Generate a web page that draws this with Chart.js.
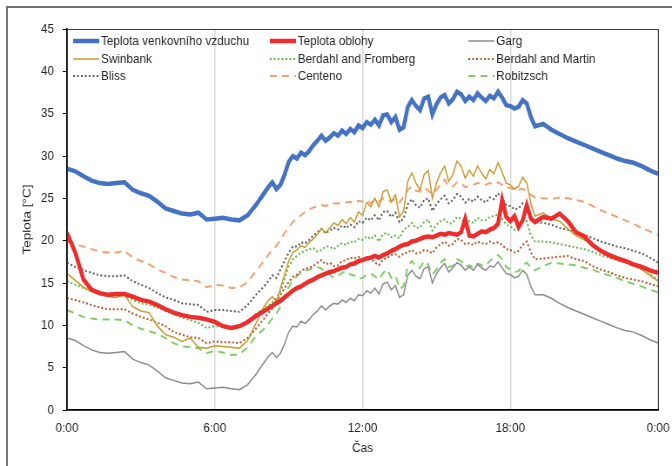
<!DOCTYPE html>
<html>
<head>
<meta charset="utf-8">
<script src="https://cdn.jsdelivr.net/npm/chart.js@4.4.1/dist/chart.umd.min.js"></script>
<style>
  html, body { margin: 0; padding: 0; background: #fff; }
  #wrap { width: 672px; height: 466px; overflow: hidden; }
  /* the whole figure is drawn wider and squeezed, which gives the narrow lettering */
  #chart { transform: scaleX(0.8705); transform-origin: 0 0; }
</style>
</head>
<body>
<div id="wrap"><canvas id="chart" width="772" height="466" style="width:772px;height:466px"></canvas></div>
<script>
const xTickLabels = ["0:00", "6:00", "12:00", "18:00", "0:00"]

// sample times in minutes: 20 min steps, 10 min steps between 8:10 and 19:00
const sampleMinutes = [
	0, 20, 40, 60, 80, 100, 120, 140, 160, 180, 200, 220, 240, 260, 280, 300, 320, 340, 360, 380, 400, 420, 440, 460, 480,
	490, 500, 510, 520, 530, 540, 550, 560, 570, 580, 590, 600, 610, 620, 630, 640, 650, 660, 670, 680, 690, 700,
	710, 720, 730, 740, 750, 760, 770, 780, 790, 800, 810, 820, 830, 840, 850, 860, 870, 880, 890, 900, 910, 920,
	930, 940, 950, 960, 970, 980, 990, 1000, 1010, 1020, 1030, 1040, 1050, 1060, 1070, 1080, 1090, 1100, 1110,
	1120, 1130, 1140,
	1160, 1180, 1200, 1220, 1240, 1260, 1280, 1300, 1320, 1340, 1360, 1380, 1400, 1420, 1440,
]

const seriesNames = [
	"Teplota venkovního vzduchu", "Teplota oblohy", "Garg",
	"Swinbank", "Berdahl and Fromberg", "Berdahl and Martin",
	"Bliss", "Centeno", "Robitzsch",
]

const airTemp = [
	28.5, 28.2, 27.6, 27.1, 26.8, 26.7, 26.8, 26.9, 26.0, 25.6, 25.3, 24.6, 23.8, 23.5, 23.2, 23.1, 23.3, 22.5, 22.6, 22.7, 22.5, 22.4, 23.0, 24.2, 25.6,
	26.3, 26.9, 26.1, 26.6, 27.8, 29.3, 30.0, 29.7, 30.4, 30.1, 30.6, 31.3, 31.8, 32.4, 31.8, 32.2, 32.7, 32.4, 33.0, 32.6, 33.2, 32.8,
	33.6, 33.3, 34.0, 33.7, 34.3, 33.6, 34.8, 34.9, 34.0, 34.6, 33.1, 33.4, 35.8, 36.6, 35.9, 35.4, 36.8, 37.0, 34.9, 36.1,
	36.9, 37.2, 36.2, 36.7, 37.6, 37.3, 36.5, 37.0, 36.6, 37.4, 36.9, 36.5, 37.1, 36.8, 37.6, 36.9, 36.0, 35.9, 35.6, 35.8,
	36.6, 36.2, 34.6, 33.5,
	33.8, 33.1, 32.6, 32.1, 31.7, 31.3, 30.9, 30.5, 30.1, 29.7, 29.4, 29.2, 28.8, 28.3, 27.9,
]
const skyTemp = [
	20.9, 18.6, 15.4, 14.2, 13.8, 13.6, 13.7, 13.7, 13.4, 13.0, 12.8, 12.4, 11.9, 11.5, 11.2, 11.0, 10.9, 10.7, 10.4, 9.9, 9.7, 9.9, 10.4, 11.1, 11.7,
	12.0, 12.3, 12.6, 12.9, 13.3, 13.7, 14.1, 14.4, 14.6, 14.9, 15.2, 15.4, 15.7, 15.9, 16.1, 16.3, 16.4, 16.6, 16.8, 16.9, 17.2, 17.3,
	17.6, 17.7, 17.9, 18.0, 18.2, 18.0, 18.3, 18.5, 18.8, 19.0, 19.3, 19.5, 19.6, 19.9, 20.0, 20.2, 20.4, 20.5, 20.4, 20.6,
	20.8, 20.7, 20.9, 20.8, 20.7, 21.0, 22.6, 20.6, 20.5, 20.8, 21.1, 21.0, 21.3, 21.5, 22.0, 24.8, 22.8, 22.3, 22.9, 21.6,
	22.4, 24.2, 22.6, 22.2,
	22.8, 22.6, 23.2, 22.3, 21.0, 20.5, 19.5, 18.8, 18.3, 17.9, 17.6, 17.2, 16.9, 16.5, 16.2,
]
const garg = [
	8.5, 8.2, 7.6, 7.1, 6.8, 6.7, 6.8, 6.9, 6.0, 5.6, 5.3, 4.6, 3.8, 3.5, 3.2, 3.1, 3.3, 2.5, 2.6, 2.7, 2.5, 2.4, 3.0, 4.2, 5.6,
	6.3, 6.8, 6.2, 6.7, 7.8, 9.2, 9.9, 9.8, 10.5, 10.2, 10.7, 11.3, 11.7, 12.3, 11.8, 12.3, 12.6, 12.5, 13.0, 12.7, 13.2, 12.9,
	13.6, 13.5, 14.1, 13.8, 14.4, 13.7, 14.9, 15.1, 14.2, 14.7, 13.3, 13.6, 15.9, 16.5, 15.8, 15.5, 16.7, 16.9, 15.0, 16.1,
	16.8, 17.3, 16.3, 16.8, 17.4, 17.1, 16.5, 16.9, 16.5, 17.2, 16.8, 16.5, 17.0, 16.9, 17.5, 16.8, 16.1, 16.0, 15.6, 15.8,
	16.5, 16.0, 14.6, 13.6,
	13.6, 13.2, 12.6, 12.1, 11.7, 11.3, 10.9, 10.5, 10.1, 9.7, 9.4, 9.2, 8.8, 8.3, 7.9,
]
const swinbank = [
	16.1, 15.3, 14.5, 14.0, 13.6, 13.4, 13.3, 13.6, 12.2, 11.7, 11.5, 9.9, 8.9, 8.6, 8.1, 8.5, 7.4, 7.3, 7.6, 7.5, 7.4, 7.3, 8.2, 10.2, 12.2,
	12.9, 13.4, 12.7, 14.4, 16.0, 17.6, 18.6, 18.9, 19.4, 19.2, 19.8, 20.2, 20.8, 21.4, 20.9, 21.5, 22.1, 21.8, 22.5, 22.0, 22.7, 22.2,
	23.4, 23.0, 24.5, 24.0, 25.0, 24.0, 25.8, 26.0, 24.6, 25.4, 22.8, 23.5, 27.0, 28.0, 26.8, 26.0, 27.8, 28.3, 25.0, 26.8,
	28.0, 28.8, 27.0, 27.8, 29.4, 28.8, 27.4, 28.3, 27.6, 28.8, 28.0, 27.3, 28.4, 27.9, 29.2, 28.1, 26.8, 26.6, 26.1, 26.4,
	27.5, 26.8, 24.4, 22.9,
	23.3, 22.6, 22.3, 21.4, 20.6, 20.1, 19.5, 18.9, 18.5, 18.1, 17.7, 17.2, 16.6, 15.9, 15.2,
]
const berdahlFromberg = [
	15.2, 14.8, 14.4, 14.1, 13.7, 13.5, 13.5, 13.6, 13.0, 12.6, 12.4, 12.1, 11.7, 11.3, 10.9, 10.6, 10.3, 9.7, 9.9, 9.9, 9.8, 9.7, 10.3, 11.3, 12.0,
	12.3, 12.7, 13.2, 14.0, 15.5, 17.0, 17.8, 18.2, 18.6, 18.8, 19.0, 19.1, 18.7, 18.9, 19.3, 19.3, 19.0, 19.4, 19.7, 19.5, 19.9, 19.8,
	20.2, 20.1, 20.5, 20.2, 20.6, 19.9, 20.8, 20.9, 20.4, 20.6, 20.3, 21.3, 21.6, 22.1, 21.5, 21.6, 22.2, 22.5, 21.2, 21.9,
	22.3, 22.5, 22.0, 22.1, 22.8, 22.6, 22.0, 22.3, 22.1, 22.7, 22.4, 22.4, 22.8, 22.9, 23.1, 22.6, 21.9, 21.7, 21.3, 21.4,
	22.3, 22.3, 20.6, 19.9,
	19.9, 19.8, 19.6, 19.4, 19.2, 19.0, 18.7, 18.3, 18.0, 17.7, 17.4, 17.0, 16.6, 16.0, 15.4,
]
const berdahlMartin = [
	13.2, 13.0, 12.7, 12.4, 12.1, 11.9, 11.9, 11.9, 11.4, 11.0, 10.7, 10.3, 9.9, 9.2, 8.9, 8.6, 8.5, 7.9, 8.1, 8.0, 8.0, 7.9, 8.5, 9.6, 10.8,
	11.4, 12.0, 12.8, 13.6, 14.4, 15.1, 15.7, 16.0, 16.4, 16.7, 16.8, 17.0, 17.4, 17.7, 17.2, 17.4, 17.0, 17.1, 17.6, 17.7, 18.0, 17.9,
	18.1, 17.8, 18.0, 17.9, 17.4, 17.1, 17.8, 18.0, 18.3, 18.4, 18.1, 18.5, 18.6, 18.9, 18.5, 18.6, 18.9, 18.8, 18.5, 19.2,
	19.6, 19.9, 19.4, 19.6, 20.2, 20.1, 19.6, 19.7, 19.5, 19.9, 19.7, 19.6, 19.9, 19.7, 19.8, 19.5, 19.0, 18.9, 18.6, 18.8,
	19.5, 19.9, 18.6, 17.8,
	17.9, 18.0, 18.1, 18.2, 17.8, 17.6, 17.0, 16.6, 16.3, 15.9, 15.6, 15.4, 15.2, 14.9, 14.6,
]
const bliss = [
	17.4, 16.9, 16.5, 16.2, 15.9, 15.8, 15.8, 15.9, 15.2, 14.8, 14.4, 13.8, 13.3, 13.0, 12.6, 12.5, 12.4, 11.6, 11.8, 11.8, 11.7, 11.6, 12.4, 13.6, 14.6,
	15.2, 15.9, 15.6, 16.6, 17.6, 18.6, 19.3, 19.3, 19.8, 19.7, 20.1, 20.6, 21.0, 21.4, 20.9, 21.2, 21.5, 21.3, 21.8, 21.5, 21.9, 21.6,
	22.3, 22.1, 22.7, 22.4, 23.0, 22.4, 23.4, 23.5, 22.8, 23.3, 22.2, 22.6, 24.3, 24.9, 24.2, 23.9, 24.8, 25.0, 23.5, 24.3,
	24.9, 25.3, 24.4, 24.8, 25.5, 25.2, 24.5, 24.9, 24.6, 25.2, 24.8, 24.5, 25.1, 24.9, 25.6, 25.0, 24.2, 24.1, 23.7, 23.8,
	24.4, 24.0, 22.9, 22.2,
	22.1, 21.9, 21.5, 21.3, 21.0, 20.7, 20.3, 19.9, 19.6, 19.3, 19.1, 18.8, 18.5, 18.0, 17.4,
]
const centeno = [
	19.9, 19.6, 19.3, 19.0, 18.7, 18.6, 18.6, 18.8, 18.0, 17.6, 17.2, 16.6, 16.2, 15.7, 15.4, 15.3, 15.2, 14.5, 14.8, 14.7, 14.4, 14.5, 15.1, 16.4, 17.6,
	18.3, 18.9, 19.4, 20.1, 20.9, 21.6, 22.2, 22.6, 23.0, 23.4, 23.7, 23.9, 24.1, 24.2, 24.1, 24.3, 24.4, 24.4, 24.5, 24.5, 24.6, 24.5,
	24.7, 24.6, 24.8, 24.4, 24.9, 24.6, 25.0, 24.9, 24.6, 25.0, 24.5, 25.2, 26.0, 26.4, 25.9, 25.8, 26.3, 25.9, 25.5, 26.0,
	26.6, 27.2, 26.4, 26.4, 26.9, 26.8, 26.3, 26.5, 26.6, 26.8, 26.7, 26.6, 26.8, 26.7, 26.9, 26.6, 26.2, 26.3, 26.0, 26.0,
	26.1, 25.9, 25.4, 25.1,
	25.0, 24.9, 25.1, 25.0, 24.8, 24.6, 24.1, 23.6, 23.2, 22.8, 22.4, 22.0, 21.5, 21.1, 20.7,
]
const robitzsch = [
	11.8, 11.4, 11.0, 10.8, 10.7, 10.7, 10.7, 10.6, 10.0, 9.6, 9.3, 9.0, 8.5, 7.9, 7.5, 7.4, 7.3, 6.7, 7.0, 6.8, 6.5, 6.6, 7.4, 8.7, 9.6,
	10.2, 10.8, 11.4, 12.2, 13.4, 14.5, 15.3, 15.8, 16.2, 16.5, 16.6, 16.8, 16.9, 16.7, 16.3, 16.0, 15.6, 15.8, 16.2, 16.4, 16.0, 15.9,
	15.5, 15.6, 16.0, 16.1, 15.8, 15.4, 16.2, 16.6, 15.6, 15.9, 14.3, 14.6, 17.0, 17.6, 16.9, 16.8, 17.6, 17.2, 16.0, 16.6,
	17.4, 17.8, 16.9, 17.0, 17.8, 17.6, 16.9, 17.1, 16.8, 17.3, 17.1, 17.0, 17.6, 18.0, 18.3, 17.8, 16.9, 16.6, 16.3, 16.4,
	17.1, 17.4, 16.8, 16.5,
	17.0, 17.4, 17.3, 17.2, 17.1, 16.8, 16.6, 16.2, 15.9, 15.6, 15.2, 14.9, 14.6, 14.2, 13.9,
]

const seriesValues = [airTemp, skyTemp, garg, swinbank, berdahlFromberg, berdahlMartin, bliss, centeno, robitzsch]

const styles = [
	{ color: "#4472c4", width: 4.5, dash: [] },
	{ color: "#f02b2b", width: 4.5, dash: [] },
	{ color: "#8c8c8c", width: 1.5, dash: [] },
	{ color: "#c99a2e", width: 1.5, dash: [] },
	{ color: "#5cb83d", width: 2, dash: [2, 2.5] },
	{ color: "#b8521c", width: 2, dash: [2, 2.5] },
	{ color: "#5a5a5a", width: 2, dash: [2, 2.5] },
	{ color: "#f5a06e", width: 2, dash: [8, 6] },
	{ color: "#80cf66", width: 2, dash: [8, 6] },
]

let datasets = seriesNames.map(function(name, k) {
	return {
		label: name,
		data: seriesValues[k].map(function(v, i) { return { x: sampleMinutes[i], y: v } }),
		borderColor: styles[k].color,
		backgroundColor: styles[k].color,
		borderWidth: styles[k].width,
		borderDash: styles[k].dash,
		pointRadius: 0,
		tension: 0,
		fill: false,
	}
})

const fontFamily = "'Liberation Sans', Arial, sans-serif"

// white page, plot frame, outer frame and a 3-column legend inside the plot
let framePlugin = {
	id: "framePlugin",
	beforeDraw: function(chart) {
		let ctx = chart.ctx
		ctx.save()
		ctx.fillStyle = "#fff"
		ctx.fillRect(0, 0, chart.width, chart.height)
		ctx.restore()
	},
	afterDraw: function(chart) {
		let ctx = chart.ctx
		let a = chart.chartArea
		ctx.save()
		ctx.strokeStyle = "#3a3a3a"
		ctx.lineWidth = 1
		ctx.strokeRect(a.left + 0.5, a.top + 0.5, a.right - a.left, a.bottom - a.top)
		ctx.strokeStyle = "#6f6f6f"
		ctx.lineWidth = 2
		ctx.strokeRect(8, 7, 900, 600)

		let colX = [7, 233, 461]
		let rowY = [12, 30, 47]
		ctx.font = "13.5px " + fontFamily
		ctx.textBaseline = "middle"
		ctx.fillStyle = "#262626"
		chart.data.datasets.forEach(function(ds, k) {
			let x = a.left + colX[k % 3]
			let y = a.top + rowY[Math.floor(k / 3)]
			ctx.beginPath()
			ctx.strokeStyle = ds.borderColor
			ctx.lineWidth = ds.borderWidth
			ctx.setLineDash(ds.borderDash)
			ctx.moveTo(x, y)
			ctx.lineTo(x + 30, y)
			ctx.stroke()
			ctx.setLineDash([])
			ctx.fillText(ds.label, x + 32, y + 0.5)
		})
		ctx.restore()
	},
}

Chart.defaults.font.family = fontFamily
Chart.defaults.font.size = 13.5
Chart.defaults.color = "#262626"

let chart = new Chart(document.querySelector("#chart"), {
	type: "line",
	data: { datasets: datasets },
	options: {
		responsive: false,
		animation: false,
		devicePixelRatio: 1,
		layout: { padding: { left: 14, right: 16, top: 29, bottom: 0 } },
		plugins: {
			legend: { display: false },
			tooltip: { enabled: false },
		},
		scales: {
			x: {
				type: "linear",
				min: 0,
				max: 1440,
				ticks: {
					stepSize: 360,
					padding: 10,
					maxRotation: 0,
					autoSkip: false,
					callback: function(v, i) { return xTickLabels[i] },
				},
				grid: { color: "#d9d9d9", lineWidth: 1.5, drawTicks: false },
				border: { color: "#000", width: 1.5 },
				title: { display: true, text: "Čas", padding: { top: 0, bottom: 10 } },
				afterFit: function(s) {
					s.height = 56
					s.paddingLeft = 0
					s.paddingRight = 0
				},
			},
			y: {
				min: 0,
				max: 45,
				ticks: { stepSize: 5, padding: 10 },
				grid: { drawOnChartArea: false, drawTicks: true, tickLength: 5, color: "#000" },
				border: { color: "#000", width: 1.5 },
				title: { display: true, text: "Teplota [°C]", padding: { top: 9, bottom: 0 } },
				afterFit: function(s) {
					s.width = 63
					s.paddingTop = 0
					s.paddingBottom = 0
				},
			},
		},
	},
	plugins: [framePlugin],
})
</script>
</body>
</html>
